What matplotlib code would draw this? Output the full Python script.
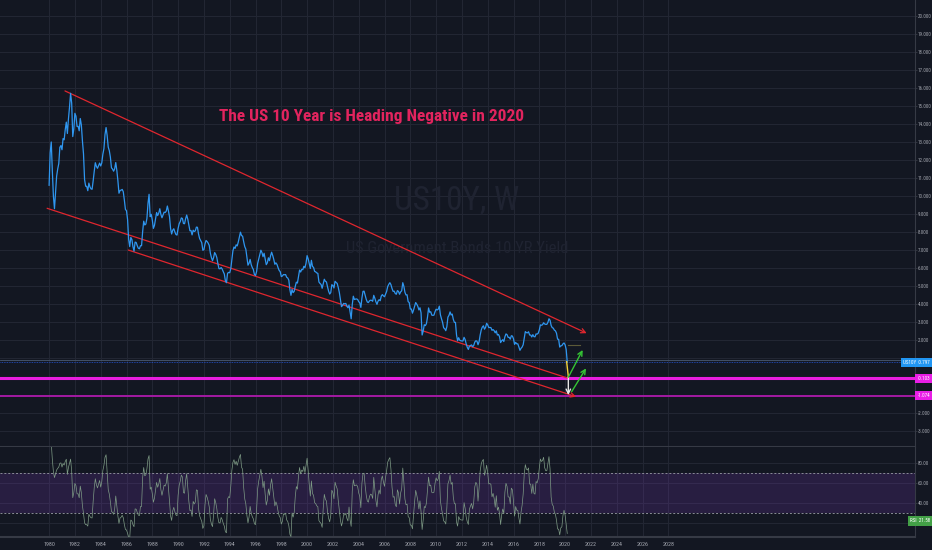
import matplotlib
matplotlib.use('Agg')

import numpy as np
import pandas as pd
import matplotlib.pyplot as plt
import matplotlib.transforms as mtransforms
from matplotlib import font_manager

# weekly-chart read as monthly closes, Jan 1980 .. Mar 2020
yields = [
    10.60, 12.40, 13.00, 11.40, 10.00, 9.30, 10.20, 11.10, 11.50, 11.80, 12.70, 12.80,   # 1980
    12.57, 13.19, 13.12, 13.68, 14.10, 13.47, 14.28, 14.94, 15.70, 15.15, 13.30, 13.72,  # 1981
    14.59, 14.43, 13.86, 13.87, 13.62, 14.30, 13.95, 13.06, 12.34, 10.91, 10.55, 10.54,  # 1982
    10.30, 10.72, 10.51, 10.40, 10.38, 10.85, 11.38, 11.85, 11.65, 11.54, 11.69, 11.83,  # 1983
    11.67, 11.84, 12.32, 12.63, 13.41, 13.80, 13.36, 12.72, 12.52, 12.16, 11.57, 11.50,  # 1984
    11.38, 11.51, 11.86, 11.43, 10.85, 10.16, 10.31, 10.33, 10.37, 10.24, 9.78, 9.26,    # 1985
    9.19, 8.70, 7.60, 7.20, 7.71, 7.60, 7.20, 6.95, 7.45, 7.43, 7.25, 7.11,              # 1986
    7.08, 7.25, 7.25, 8.02, 8.61, 8.40, 8.45, 8.76, 9.60, 10.10, 8.86, 8.99,             # 1987
    8.67, 8.21, 8.37, 8.72, 9.09, 8.92, 9.06, 9.30, 8.98, 8.80, 8.96, 9.11,              # 1988
    9.09, 9.17, 9.45, 9.18, 8.86, 8.20, 7.90, 8.11, 8.19, 8.01, 7.87, 7.84,              # 1989
    8.21, 8.47, 8.59, 8.79, 8.76, 8.48, 8.47, 8.75, 8.95, 8.72, 8.39, 8.08,              # 1990
    8.09, 7.85, 8.11, 8.04, 8.07, 8.28, 8.27, 7.90, 7.65, 7.53, 7.42, 7.00,              # 1991
    7.03, 7.34, 7.54, 7.48, 7.39, 7.26, 6.84, 6.59, 6.42, 6.59, 6.87, 6.77,              # 1992
    6.60, 6.26, 5.98, 5.97, 6.04, 5.96, 5.81, 5.68, 5.30, 5.20, 5.72, 5.77,              # 1993
    5.75, 5.97, 6.48, 6.97, 7.18, 7.10, 7.30, 7.24, 7.46, 7.74, 8.00, 7.81,              # 1994
    7.78, 7.47, 7.20, 7.06, 6.63, 6.17, 6.28, 6.49, 6.20, 6.04, 5.93, 5.65,              # 1995
    5.60, 5.81, 6.27, 6.51, 6.74, 7.00, 6.87, 6.64, 6.83, 6.53, 6.20, 6.30,              # 1996
    6.58, 6.42, 6.69, 6.89, 6.71, 6.49, 6.22, 6.30, 6.21, 6.03, 5.88, 5.81,              # 1997
    5.54, 5.57, 5.65, 5.64, 5.65, 5.50, 5.46, 5.34, 4.81, 4.50, 4.83, 4.65,              # 1998
    4.72, 5.00, 5.23, 5.18, 5.54, 5.90, 5.79, 5.94, 5.92, 6.11, 6.03, 6.28,              # 1999
    6.70, 6.52, 6.26, 5.99, 6.44, 6.10, 6.05, 5.83, 5.80, 5.74, 5.72, 5.24,              # 2000
    5.16, 5.10, 4.89, 5.14, 5.39, 5.28, 5.24, 4.97, 4.73, 4.57, 4.65, 5.09,              # 2001
    5.04, 4.91, 5.28, 5.21, 5.16, 4.93, 4.65, 4.26, 3.87, 3.94, 4.05, 4.03,              # 2002
    4.05, 3.90, 3.81, 3.96, 3.57, 3.20, 3.98, 4.45, 4.27, 4.29, 4.30, 4.27,              # 2003
    4.15, 4.08, 3.83, 4.35, 4.72, 4.73, 4.50, 4.28, 4.13, 4.10, 4.19, 4.23,              # 2004
    4.22, 4.17, 4.50, 4.34, 4.14, 4.00, 4.18, 4.26, 4.20, 4.46, 4.54, 4.47,              # 2005
    4.42, 4.57, 4.72, 4.99, 5.11, 5.20, 5.09, 4.88, 4.72, 4.73, 4.60, 4.56,              # 2006
    4.76, 4.72, 4.56, 4.69, 4.75, 5.20, 5.00, 4.67, 4.52, 4.53, 4.15, 4.10,              # 2007
    3.74, 3.74, 3.51, 3.68, 3.88, 4.10, 4.01, 3.89, 3.69, 3.81, 3.53, 2.30,              # 2008
    2.52, 2.87, 2.82, 2.93, 3.29, 3.80, 3.56, 3.59, 3.40, 3.39, 3.40, 3.59,              # 2009
    3.73, 3.69, 3.73, 3.90, 3.42, 3.20, 3.01, 2.70, 2.65, 2.54, 2.76, 3.29,              # 2010
    3.39, 3.58, 3.41, 3.46, 3.17, 3.00, 3.00, 2.30, 1.98, 2.15, 2.01, 1.98,              # 2011
    1.97, 1.97, 2.17, 2.05, 1.80, 1.62, 1.50, 1.68, 1.72, 1.75, 1.65, 1.72,              # 2012
    1.91, 1.98, 1.96, 1.76, 1.93, 2.30, 2.58, 2.74, 2.81, 2.62, 2.72, 2.95,              # 2013
    2.86, 2.71, 2.72, 2.71, 2.56, 2.60, 2.54, 2.42, 2.53, 2.30, 2.33, 2.21,              # 2014
    1.88, 1.98, 2.04, 1.94, 2.20, 2.36, 2.32, 2.17, 2.17, 2.07, 2.26, 2.24,              # 2015
    2.09, 1.78, 1.89, 1.81, 1.81, 1.64, 1.45, 1.56, 1.63, 1.76, 2.14, 2.49,              # 2016
    2.43, 2.42, 2.48, 2.30, 2.30, 2.19, 2.32, 2.21, 2.20, 2.36, 2.35, 2.40,              # 2017
    2.58, 2.86, 2.84, 2.87, 2.98, 2.91, 2.89, 2.89, 3.00, 3.20, 3.12, 2.83,              # 2018
    2.71, 2.68, 2.57, 2.53, 2.40, 2.07, 2.06, 1.63, 1.70, 1.71, 1.81, 1.86,              # 2019
    1.76, 1.50, 0.797,                                                                  # 2020
]
start_year = 1980

year_ticks = list(range(1980, 2029, 2))
price_ticks = list(range(-3, 21))
hidden_price_ticks = [1, 0, -1]   # covered by the value labels on the axis
rsi_ticks = [40, 60, 80]

# drawings on the chart (year, yield)
upper_line = ([1981.23, 2021.67], [15.83, 2.40])
lower_line_a = ([1979.86, 2020.25], [9.32, -0.10])
lower_line_b = ([1986.14, 2020.85], [7.01, -1.12])
yellow_leg = ([2020.12, 2020.25], [0.82, -0.01])
white_leg = ([2020.25, 2020.25], [-0.01, -1.03])
green_arrow_1 = ([2020.25, 2021.36], [-0.04, 1.47])
green_arrow_2 = ([2020.51, 2021.62], [-0.84, 0.45])
olive_tick = ([2020.25, 2021.16], [1.74, 1.74])
level_1 = -0.103
level_2 = -1.074
last_price = 0.797
prev_line = 0.93
rsi_last = '21.58'
rsi_period = 6

title_text = 'The US 10 Year is Heading Negative in 2020'

bg = '#131722'
grid_c = '#222633'
sep_c = '#363a45'
txt_c = '#a3a6af'

names = {f.name for f in font_manager.fontManager.ttflist}
narrow = 'DejaVu Sans'
for cand in ['Liberation Sans Narrow', 'Roboto Condensed', 'Open Sans Condensed', 'Lato']:
    if cand in names:
        narrow = cand
        break
plt.rcParams['font.family'] = [narrow, 'DejaVu Sans']

years = start_year + np.arange(len(yields)) / 12.0
s = pd.Series(yields)
d = s.diff()
up = d.clip(lower=0).ewm(alpha=1 / rsi_period, adjust=False).mean()
dn = (-d).clip(lower=0).ewm(alpha=1 / rsi_period, adjust=False).mean()
rsi = 100 - 100 / (1 + up / dn)

fig = plt.figure(figsize=(9.32, 5.5), dpi=100, facecolor=bg)
ax = fig.add_axes([0, 103 / 550, 915 / 932, 447 / 550], facecolor=bg)
ax2 = fig.add_axes([0, 13 / 550, 915 / 932, 90 / 550], facecolor=bg)

x0 = 1980 + (0 - 49.1) / 12.9
x1 = 1980 + (915 - 49.1) / 12.9
ax.set_xlim(x0, x1)
ax.set_ylim(20 - (447 - 15.7) / 18.04, 20 + 15.7 / 18.04)
ax2.set_xlim(x0, x1)
ax2.set_ylim(5.7, 95.7)

for a in (ax, ax2):
    for yv in year_ticks:
        a.axvline(yv, color=grid_c, lw=0.8, zorder=0)
    for sp in ('top', 'left'):
        a.spines[sp].set_visible(False)
    a.spines['right'].set_color(sep_c)
    a.spines['bottom'].set_color(sep_c)
    a.spines['bottom'].set_linewidth(1.5)
    a.yaxis.tick_right()
    a.tick_params(axis='y', length=1.5, width=0.6, color=sep_c, labelsize=3.6,
                  labelcolor=txt_c, pad=0.6)

for yv in price_ticks:
    ax.axhline(yv, color=grid_c, lw=0.8, zorder=0)
ax.set_yticks(price_ticks)
ax.set_yticklabels(['' if v in hidden_price_ticks else f'{v:.3f}' for v in price_ticks])
ax.set_xticks([])

for yv in [20, 40, 60, 80]:
    ax2.axhline(yv, color=grid_c, lw=0.8, zorder=0)
ax2.set_yticks(rsi_ticks)
ax2.set_yticklabels([f'{v:.2f}' for v in rsi_ticks])
ax2.set_xticks(year_ticks)
ax2.set_xticklabels([str(v) for v in year_ticks])
ax2.tick_params(axis='x', length=0, labelsize=4.3, labelcolor=txt_c, pad=3.5)

# watermark
wm1 = ax.text(0.499, 0.55, 'US10Y, W', transform=ax.transAxes, ha='center', va='center',
              fontsize=30, color='#1f2331', zorder=1)
wm2 = ax.text(0.5, 0.443, 'US Government Bonds 10 YR Yield', transform=ax.transAxes,
              ha='center', va='center', fontsize=12, color='#1f2331', zorder=1)

# horizontal levels
ax.axhline(prev_line, color='#4a5a72', lw=0.6, zorder=2)
ax.axhline(last_price, color='#2962ff', lw=0.6, ls=(0, (1, 1)), alpha=0.8, zorder=2)
ax.axhline(level_1, color='#e81ee0', lw=2.2, zorder=3)
ax.axhline(level_2, color='#a31aa3', lw=1.4, zorder=3)

# price
ax.plot(years, yields, color='#2f96ef', lw=0.9, zorder=5)

# channel
ax.plot(*lower_line_a, color='#e0262e', lw=0.9, zorder=4)
for line in (upper_line, lower_line_b):
    ax.annotate('', xy=(line[0][1], line[1][1]), xytext=(line[0][0], line[1][0]),
                arrowprops=dict(arrowstyle='->', color='#e0262e', lw=0.9,
                                mutation_scale=8, shrinkA=0, shrinkB=0), zorder=4)
ax.plot(*yellow_leg, color='#f5d33a', lw=1.0, zorder=6)
ax.annotate('', xy=(white_leg[0][1], white_leg[1][1]), xytext=(white_leg[0][0], white_leg[1][0]),
            arrowprops=dict(arrowstyle='->', color='#e8e8e8', lw=1.0,
                            mutation_scale=8, shrinkA=0, shrinkB=0), zorder=6)
for line in (green_arrow_1, green_arrow_2):
    ax.annotate('', xy=(line[0][1], line[1][1]), xytext=(line[0][0], line[1][0]),
                arrowprops=dict(arrowstyle='->', color='#35c435', lw=1.0,
                                mutation_scale=8, shrinkA=0, shrinkB=0), zorder=6)
ax.plot(*olive_tick, color='#5c5a38', lw=0.8, zorder=6)

ttl = ax.text(2005.03, 14.44, title_text, ha='center', va='center', fontsize=12,
              fontweight='bold', color='#e2245e', zorder=7)

# axis value labels
trans = mtransforms.blended_transform_factory(ax.transAxes, ax.transData)
ax.text(1.0165, last_price, 'US10Y  0.797', transform=trans, ha='right', va='center',
        fontsize=3.7, color='white', zorder=8, clip_on=False,
        bbox=dict(boxstyle='square,pad=0.4', fc='#2196f3', ec='none'))
for lv in (level_1, level_2):
    ax.text(1.0165, lv, f'{lv:.3f}', transform=trans, ha='right', va='center',
            fontsize=3.7, color='white', zorder=8, clip_on=False,
            bbox=dict(boxstyle='square,pad=0.4', fc='#e91ee6', ec='none'))

# RSI pane
ax2.axhspan(30, 70, color='#7e3fc2', alpha=0.2, lw=0, zorder=1)
for lv in (30, 70):
    ax2.axhline(lv, color='#8a8d96', lw=0.7, ls=(0, (2, 2)), zorder=2)
ax2.plot(years[1:], rsi[1:], color='#7f9c86', lw=0.5, zorder=3)
trans2 = mtransforms.blended_transform_factory(ax2.transAxes, ax2.transData)
ax2.text(1.0165, 21.7, 'RSI  ' + rsi_last, transform=trans2, ha='right', va='center',
         fontsize=3.7, color='white', zorder=8, clip_on=False,
         bbox=dict(boxstyle='square,pad=0.4', fc='#43a047', ec='none'))

# fit text widths to the reference
fig.canvas.draw()
rend = fig.canvas.get_renderer()
for t, target in ((ttl, 304), (wm1, 125), (wm2, 222)):
    w = t.get_window_extent(rend).width
    t.set_fontsize(t.get_fontsize() * target / w)

fig.savefig('out.png', dpi=100, facecolor=bg)
